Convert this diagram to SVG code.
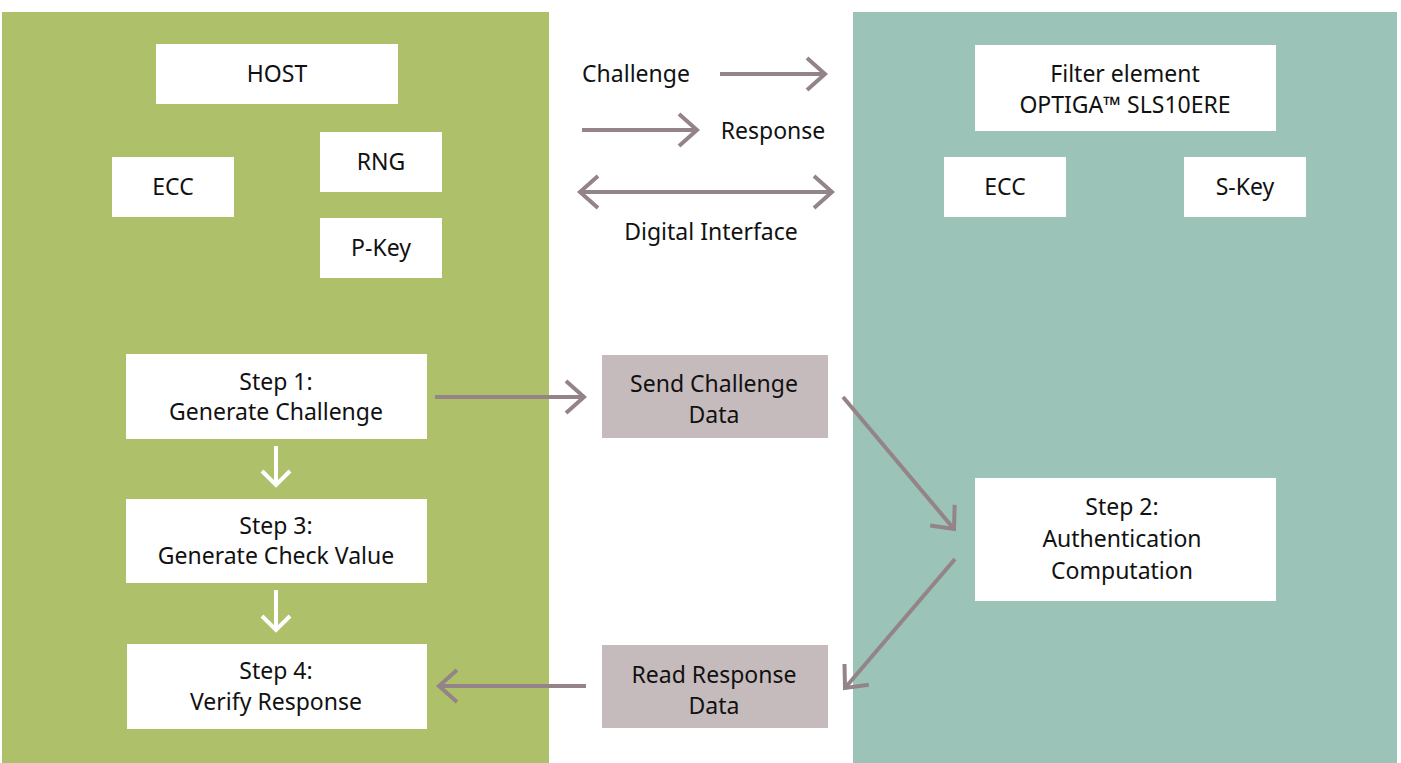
<svg xmlns="http://www.w3.org/2000/svg" width="1401" height="763" viewBox="0 0 1401 763">
<style>
.t{font-family:"Noto Sans","Open Sans",sans-serif;font-size:23px;fill:#111;text-anchor:middle}
.w{fill:#fff}
.g{fill:#c6bbbc}
.a{stroke:#948487;stroke-width:4;fill:none}
.d{stroke:#fff;stroke-width:4;fill:none}
</style>
<defs>
<marker id="ah" markerUnits="userSpaceOnUse" markerWidth="40" markerHeight="40" viewBox="-25 -20 30 40" refX="0" refY="0" orient="auto-start-reverse" overflow="visible">
<path d="M-18,-16 L0,0 L-18,16" stroke="#948487" stroke-width="4" fill="none"/>
</marker>
<marker id="wh" markerUnits="userSpaceOnUse" markerWidth="40" markerHeight="40" viewBox="-25 -20 30 40" refX="0" refY="0" orient="auto" overflow="visible">
<path d="M-14,-14 L0,0 L-14,14" stroke="#fff" stroke-width="4" fill="none"/>
</marker>
</defs>
<rect width="1401" height="763" fill="#fff"/>
<rect id="host-panel" x="2" y="12" width="547" height="751" fill="#aec06a"/>
<rect id="device-panel" x="853" y="12" width="544" height="751" fill="#9bc3b7"/>

<g id="host"><rect class="w" x="156" y="44" width="242" height="60"/><text class="t" x="277" y="82">HOST</text></g>
<g id="ecc-host"><rect class="w" x="112" y="157" width="122" height="60"/><text class="t" x="173" y="195">ECC</text></g>
<g id="rng"><rect class="w" x="320" y="132" width="122" height="60"/><text class="t" x="381" y="170">RNG</text></g>
<g id="pkey"><rect class="w" x="320" y="218" width="122" height="60"/><text class="t" x="381" y="256">P-Key</text></g>
<g id="step1"><rect class="w" x="126" y="354" width="301" height="85"/><text class="t" x="276" y="390">Step 1:</text><text class="t" x="276" y="420">Generate Challenge</text></g>
<g id="step3"><rect class="w" x="126" y="499" width="301" height="84"/><text class="t" x="276" y="534">Step 3:</text><text class="t" x="276" y="564">Generate Check Value</text></g>
<g id="step4"><rect class="w" x="127" y="644" width="300" height="85"/><text class="t" x="276" y="679">Step 4:</text><text class="t" x="276" y="710">Verify Response</text></g>
<g id="send"><rect class="g" x="602" y="355" width="226" height="83"/><text class="t" x="714" y="392">Send Challenge</text><text class="t" x="714" y="423">Data</text></g>
<g id="read"><rect class="g" x="602" y="645" width="226" height="83"/><text class="t" x="714" y="683">Read Response</text><text class="t" x="714" y="714">Data</text></g>
<g id="filter"><rect class="w" x="975" y="45" width="301" height="86"/><text class="t" x="1125" y="82">Filter element</text><text class="t" x="1125" y="113">OPTIGA™ SLS10ERE</text></g>
<g id="ecc-dev"><rect class="w" x="944" y="157" width="122" height="60"/><text class="t" x="1005" y="195">ECC</text></g>
<g id="skey"><rect class="w" x="1184" y="157" width="122" height="60"/><text class="t" x="1245" y="195">S-Key</text></g>
<g id="step2"><rect class="w" x="975" y="478" width="301" height="123"/><text class="t" x="1122" y="515">Step 2:</text><text class="t" x="1122" y="547">Authentication</text><text class="t" x="1122" y="579">Computation</text></g>

<g id="legend">
<text class="t" x="636" y="82">Challenge</text>
<text class="t" x="773" y="139">Response</text>
<text class="t" x="711" y="240">Digital Interface</text>
</g>

<g id="connectors">
<line class="a" x1="720" y1="74" x2="825" y2="74" marker-end="url(#ah)"/>
<line class="a" x1="582" y1="130" x2="697" y2="130" marker-end="url(#ah)"/>
<line class="a" x1="580" y1="192" x2="832" y2="192" marker-start="url(#ah)" marker-end="url(#ah)"/>
<line class="a" x1="435" y1="397" x2="584" y2="397" marker-end="url(#ah)"/>
<line class="a" x1="843" y1="397" x2="954" y2="529" marker-end="url(#ah)"/>
<line class="a" x1="955" y1="559" x2="845" y2="688" marker-end="url(#ah)"/>
<line class="a" x1="586" y1="686" x2="439" y2="686" marker-end="url(#ah)"/>
<line class="d" x1="276" y1="446" x2="276" y2="485" marker-end="url(#wh)"/>
<line class="d" x1="276" y1="590" x2="276" y2="630" marker-end="url(#wh)"/>
</g>
</svg>
